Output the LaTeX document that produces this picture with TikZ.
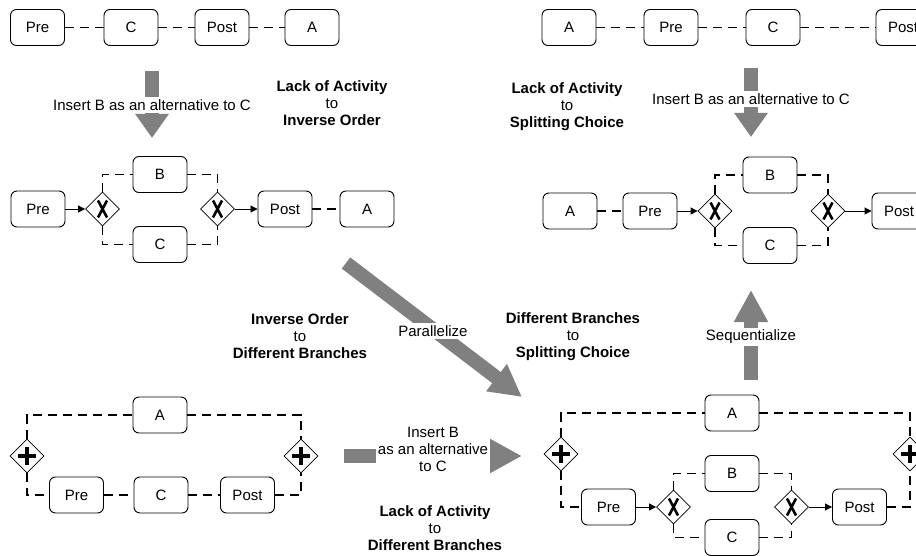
\documentclass[tikz,border=0pt]{standalone}
\usepackage{fontspec}
\setmainfont{Liberation Sans}
\usetikzlibrary{shapes.geometric,arrows.meta}
\begin{document}
\begin{tikzpicture}[x=1pt,y=-1pt,font=\fontsize{15pt}{17pt}\selectfont,
  task/.style={draw,line width=0.9pt,rounded corners=6pt,minimum width=54pt,minimum height=36pt,inner xsep=12pt,inner ysep=0pt},
  gate/.style={draw,line width=0.8pt,diamond,minimum width=34pt,minimum height=34pt,inner sep=0pt},
  xorgate/.style={gate,path picture={\draw[line width=2.6pt] (path picture bounding box.center) ++(-4.5,-8.5) -- ++(9,17) (path picture bounding box.center) ++(4.5,-8.5) -- ++(-9,17);}},
  andgate/.style={gate,path picture={\draw[line width=4.5pt] (path picture bounding box.center) ++(-9,0) -- ++(18,0) (path picture bounding box.center) ++(0,-9) -- ++(0,18);}},
  assoc/.style={line width=1.2pt,dash pattern=on 9pt off 6pt},
  flow/.style={line width=0.9pt,-{Triangle[length=7pt,width=7pt]}},
  move/.style={draw=gray,line width=14pt,-{Triangle[length=#1,width=32pt]}},
  move/.default=32pt,
  rule/.style={align=center},
  tag/.style={fill=white,inner sep=2pt,align=center}]
\useasboundingbox (0,0) rectangle (916,556);

\node[task] (pre1) at (37.5,27.5) {Pre};
\node[task] (c1) at (131,27.5) {C};
\node[task] (post1) at (222,27.5) {Post};
\node[task] (a1) at (312,27.5) {A};
\draw[assoc] (pre1) -- (c1) (c1) -- (post1) (post1) -- (a1);

\coordinate (from1) at (152,71);
\coordinate (to1) at (152,138);
\draw[move=24pt] (from1) -- (to1);
\node[tag] (ins1) at (152,105) {Insert B as an alternative to C};
\node[rule] (r1) at (332,103) {\textbf{Lack of Activity}\\to\\\textbf{Inverse Order}};

\node[task] (pre2) at (38,209) {Pre};
\node[xorgate] (xs2) at (102.5,209) {};
\node[task] (b2) at (160,174.5) {B};
\node[task] (c2) at (160,244.5) {C};
\node[xorgate] (xj2) at (217.5,209) {};
\node[task] (post2) at (285,209) {Post};
\node[task] (a2) at (367,209) {A};
\draw[flow] (pre2) -- (xs2);
\draw[flow] (xj2) -- (post2);
\draw[assoc] (xs2.north) |- (b2.west) (xs2.south) |- (c2.west) (b2.east) -| (xj2.north) (c2.east) -| (xj2.south) (post2) -- (a2);

\node[task] (a3) at (569,27.5) {A};
\node[task] (pre3) at (671,27.5) {Pre};
\node[task] (c3) at (773,27.5) {C};
\node[task] (post3) at (903,27.5) {Post};
\draw[assoc] (a3) -- (pre3) (pre3) -- (c3) (c3) -- (post3);

\coordinate (from3) at (751,68);
\coordinate (to3) at (751,137);
\draw[move=24pt] (from3) -- (to3);
\node[tag] (ins3) at (751,99) {Insert B as an alternative to C};
\node[rule] (r3) at (567,107) {\textbf{Lack of Activity}\\to\\\textbf{Splitting Choice}};

\node[task] (a4) at (570,211) {A};
\node[task] (pre4) at (650,211) {Pre};
\node[xorgate] (xs4) at (715,211) {};
\node[task] (b4) at (770,175) {B};
\node[task] (c4) at (770,245.5) {C};
\node[xorgate] (xj4) at (828,211) {};
\node[task] (post4) at (899,211) {Post};
\draw[assoc] (a4) -- (pre4);
\draw[flow] (pre4) -- (xs4);
\draw[flow] (xj4) -- (post4);
\draw[assoc] (xs4.north) |- (b4.west) (xs4.south) |- (c4.west) (b4.east) -| (xj4.north) (c4.east) -| (xj4.south);

\node[rule] (r5) at (300,336) {\textbf{Inverse Order}\\to\\\textbf{Different Branches}};
\coordinate (from5) at (346,263);
\coordinate (to5) at (522,397);
\draw[move] (from5) -- (to5);
\node[tag] (par5) at (433,331) {Parallelize};

\node[rule] (r6) at (573,337) {\textbf{Different Branches}\\to\\\textbf{Splitting Choice}};
\coordinate (from6) at (751,380);
\coordinate (to6) at (751,290);
\draw[move] (from6) -- (to6);
\node[tag] (seq6) at (751,337) {Sequentialize};

\node[andgate] (ps5) at (27,456) {};
\node[task] (a5) at (160,415) {A};
\node[task] (pre5) at (76.5,495) {Pre};
\node[task] (c5) at (161,495) {C};
\node[task] (post5) at (247.5,495) {Post};
\node[andgate] (pj5) at (301,456) {};
\draw[assoc] (ps5.north) |- (a5.west) (a5.east) -| (pj5.north) (ps5.south) |- (pre5.west) (pre5) -- (c5) (c5) -- (post5) (post5.east) -| (pj5.south);

\coordinate (from7) at (344,456);
\coordinate (to7) at (522,456);
\draw[move] (from7) -- (to7);
\node[tag] (ins7) at (433,449) {Insert B\\as an alternative\\to C};
\node[rule] (r7) at (435,528) {\textbf{Lack of Activity}\\to\\\textbf{Different Branches}};

\node[andgate] (ps8) at (561,454) {};
\node[task] (a8) at (732,413) {A};
\node[task] (pre8) at (608.5,507) {Pre};
\node[xorgate] (xs8) at (673.5,507) {};
\node[task] (b8) at (732,473.5) {B};
\node[task] (c8) at (732,537.5) {C};
\node[xorgate] (xj8) at (791.5,507) {};
\node[task] (post8) at (859.5,507) {Post};
\node[andgate] (pj8) at (910,454) {};
\draw[assoc] (ps8.north) |- (a8.west) (a8.east) -| (pj8.north) (ps8.south) |- (pre8.west);
\draw[flow] (pre8) -- (xs8);
\draw[flow] (xj8) -- (post8);
\draw[assoc] (xs8.north) |- (b8.west) (xs8.south) |- (c8.west) (b8.east) -| (xj8.north) (c8.east) -| (xj8.south) (post8.east) -| (pj8.south);
\end{tikzpicture}
\end{document}
